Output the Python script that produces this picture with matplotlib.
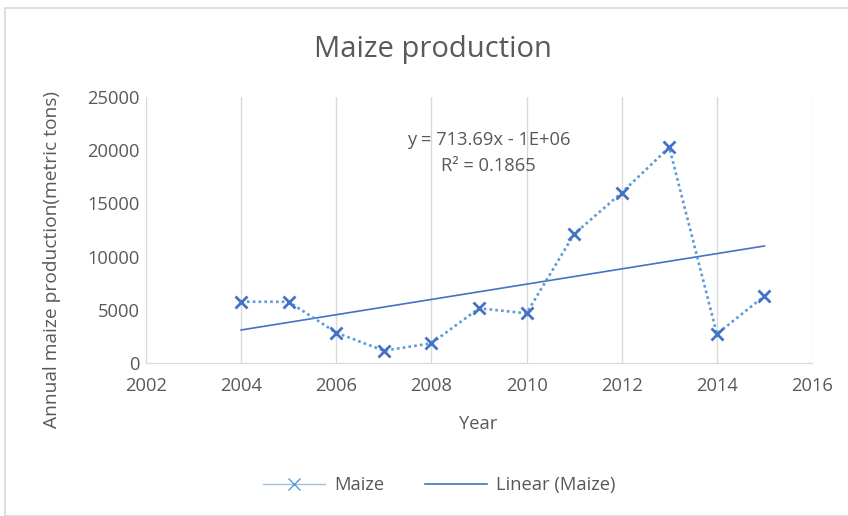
import numpy as np
import matplotlib
matplotlib.use("Agg")
import matplotlib.pyplot as plt
from matplotlib.lines import Line2D
from matplotlib.patches import Rectangle

years = [2004, 2005, 2006, 2007, 2008, 2009, 2010, 2011, 2012, 2013, 2014, 2015]
maize = [5760, 5750, 2850, 1160, 1850, 5140, 4670, 12120, 16010, 20270, 2730, 6300]
x_ticks = [2002, 2004, 2006, 2008, 2010, 2012, 2014, 2016]
y_ticks = [0, 5000, 10000, 15000, 20000, 25000]
eq_text = "y = 713.69x - 1E+06"
r2_text = "R² = 0.1865"

plt.rcParams['font.family'] = ['Open Sans', 'DejaVu Sans']
gray = '#595959'
blue = '#4472c4'
light_blue = '#5b9bd5'
fs = 13.2

fig = plt.figure(figsize=(8.48, 5.16), dpi=100)
fig.patches.append(Rectangle((5/848, 0), 1, 1 - 8/516, transform=fig.transFigure,
                             fill=False, edgecolor='#d9d9d9', linewidth=1.2))
ax = fig.add_axes([146/848, 1 - 363/516, (812 - 146)/848, (363 - 97)/516])

x = np.array(years, dtype=float)
y = np.array(maize, dtype=float)
coef = np.polyfit(x, y, 1)
xt = np.array([x.min(), x.max()])
ax.plot(x, y, linestyle=(0, (1, 1.2)), color=light_blue, linewidth=1.9, zorder=3)
ax.plot(x, y, linestyle='none', marker='x', markersize=8, markeredgewidth=2,
        color=blue, zorder=4)
ax.plot(xt, np.polyval(coef, xt), color=blue, linewidth=1.2, zorder=2)

ax.set_xlim(2002, 2016)
ax.set_ylim(0, 25000)
ax.set_xticks(x_ticks)
ax.set_yticks(y_ticks)
ax.grid(axis='x', color='#d9d9d9', linewidth=1)
ax.set_axisbelow(True)
for s in ['top', 'right', 'left']:
    ax.spines[s].set_visible(False)
ax.spines['bottom'].set_color('#d9d9d9')
ax.tick_params(length=0, labelsize=fs, labelcolor=gray)
ax.tick_params(axis='x', pad=10)
ax.tick_params(axis='y', pad=4.5)

ax.text(2009.2, 20960, eq_text, fontsize=fs, color=gray, ha='center', va='center')
ax.text(2009.2, 18510, r2_text, fontsize=fs, color=gray, ha='center', va='center')

fig.text(433/848, 1 - 49/516, "Maize production", fontsize=21, color=gray,
         ha='center', va='center')
fig.text(478/848, 1 - 424/516, "Year", fontsize=fs, color=gray, ha='center', va='center')
fig.text(52/848, 1 - 260/516, "Annual maize production(metric tons)", fontsize=13.8,
         color=gray, ha='center', va='center', rotation=90)

handles = [Line2D([], [], color='#9dc3e6', linewidth=1, marker='x', markersize=8,
                  markeredgewidth=1, markeredgecolor=light_blue),
           Line2D([], [], color=blue, linewidth=1.2)]
fig.legend(handles, ['Maize', 'Linear (Maize)'], loc='center', ncol=2,
           bbox_to_anchor=(439/848, 1 - 485/516), frameon=False, fontsize=fs,
           labelcolor=gray, handlelength=3.4, handletextpad=0.5, columnspacing=2.2)

fig.savefig("out.png", dpi=100)
